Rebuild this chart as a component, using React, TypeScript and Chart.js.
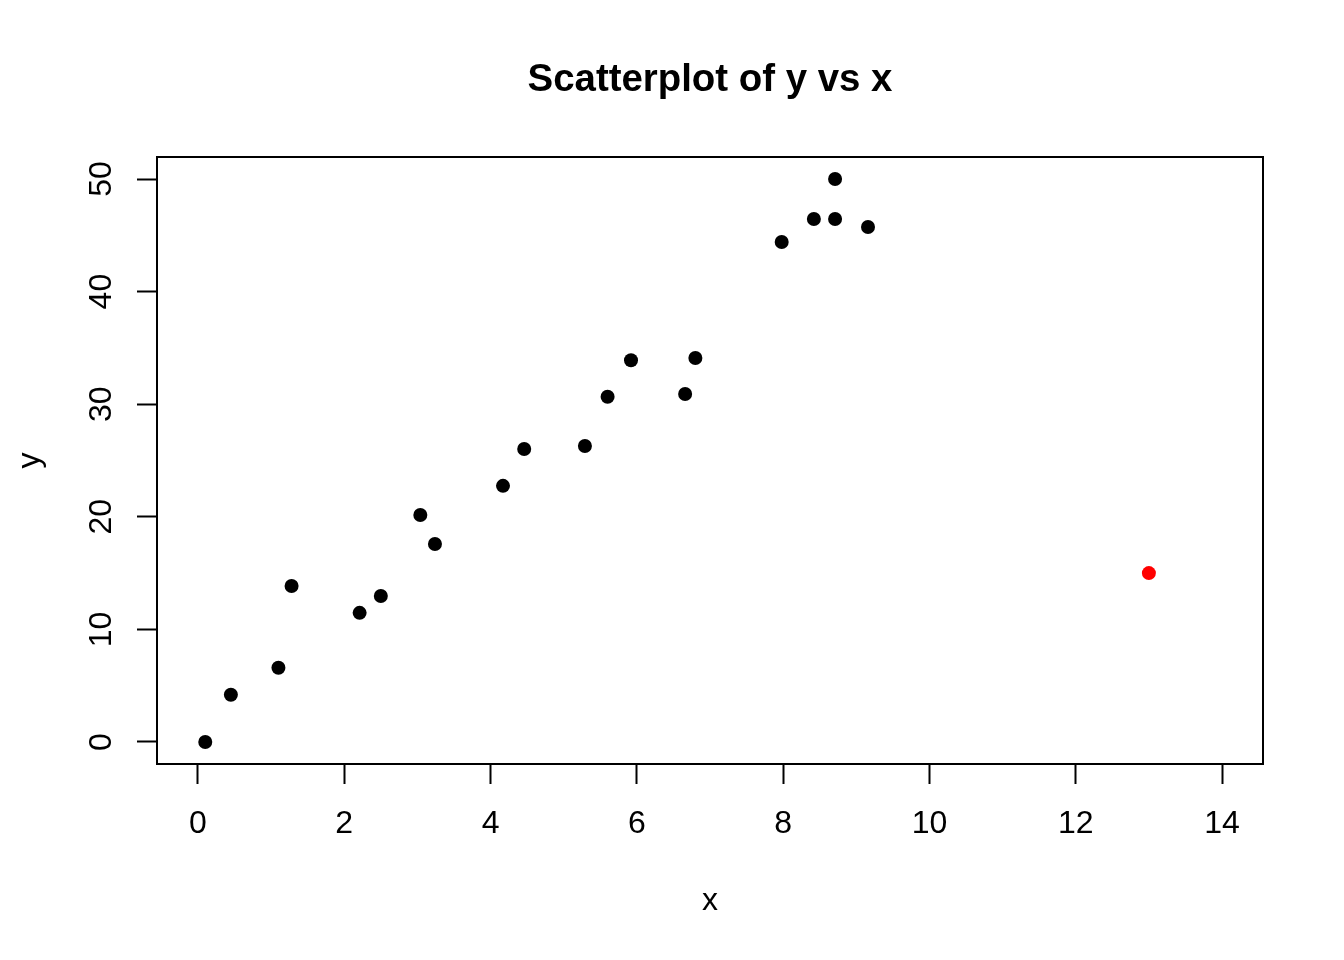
import React, { useEffect, useRef } from "react";
import { Chart, registerables } from "chart.js";

Chart.register(...registerables);

const xValues = [0.1, 0.45, 1.1, 1.28, 2.21, 2.5, 3.04, 3.24, 4.17, 4.46, 5.29, 5.6, 5.92, 6.66, 6.8, 7.98, 8.42, 8.71, 8.71, 9.16];
const yValues = [0, 4.2, 6.6, 13.85, 11.47, 12.97, 20.16, 17.58, 22.75, 26.02, 26.29, 30.66, 33.9, 30.91, 34.1, 44.4, 46.45, 46.45, 50.0, 45.74];
const outlierX = [13];
const outlierY = [15];
const xTicks = [0, 2, 4, 6, 8, 10, 12, 14];
const yTicks = [0, 10, 20, 30, 40, 50];
const titleText = "Scatterplot of y vs x";

const FONT = "'Liberation Sans', Arial, Helvetica, sans-serif";

const boxPlugin = {
  id: "rbox",
  afterDraw(chart: any) {
    const { ctx, chartArea } = chart;
    ctx.save();
    ctx.strokeStyle = "#000";
    ctx.lineWidth = 2;
    ctx.strokeRect(chartArea.left, chartArea.top, chartArea.right - chartArea.left, chartArea.bottom - chartArea.top);
    ctx.fillStyle = "#000";
    ctx.font = `bold 38.4px ${FONT}`;
    ctx.textAlign = "center";
    ctx.textBaseline = "middle";
    ctx.fillText(titleText, (chartArea.left + chartArea.right) / 2, 80);
    ctx.restore();
  },
};

export default function App() {
  const ref = useRef<HTMLCanvasElement>(null);
  useEffect(() => {
    if (!ref.current) return;
    const chart = new Chart(ref.current, {
      type: "scatter",
      data: {
        datasets: [
          {
            data: xValues.map((x, i) => ({ x, y: yValues[i] })),
            backgroundColor: "#000",
            borderWidth: 0,
            pointRadius: 7,
          },
          {
            data: outlierX.map((x, i) => ({ x, y: outlierY[i] })),
            backgroundColor: "#ff0000",
            borderWidth: 0,
            pointRadius: 7,
          },
        ],
      },
      plugins: [boxPlugin],
      options: {
        animation: false,
        responsive: false,
        maintainAspectRatio: false,
        events: [],
        layout: { padding: { top: 157, right: 81, left: 0, bottom: 0 } },
        plugins: {
          legend: { display: false },
          tooltip: { enabled: false },
          title: { display: false },
        },
        scales: {
          x: {
            type: "linear",
            min: -0.56,
            max: 14.56,
            afterBuildTicks: (s: any) => {
              s.ticks = xTicks.map((v) => ({ value: v }));
            },
            afterFit: (s: any) => {
              s.height = 196;
            },
            grid: {
              drawOnChartArea: false,
              drawTicks: true,
              tickLength: 20,
              tickWidth: 2,
              tickColor: "#000",
            },
            border: { display: false },
            ticks: {
              color: "#000",
              font: { family: FONT, size: 32 },
              padding: 21,
              maxRotation: 0,
              minRotation: 0,
              autoSkip: false,
              callback: (v: any) => String(v),
            },
            title: {
              display: true,
              text: "x",
              color: "#000",
              font: { family: FONT, size: 32, lineHeight: 1.2 },
              padding: { top: 0, bottom: 40 },
            },
          },
          y: {
            type: "linear",
            min: -1.954,
            max: 51.954,
            afterBuildTicks: (s: any) => {
              s.ticks = yTicks.map((v) => ({ value: v }));
            },
            afterFit: (s: any) => {
              s.width = 157;
            },
            grid: {
              drawOnChartArea: false,
              drawTicks: true,
              tickLength: 20,
              tickWidth: 2,
              tickColor: "#000",
            },
            border: { display: false },
            ticks: {
              color: "#000",
              font: { family: FONT, size: 32 },
              padding: 17,
              minRotation: 90,
              maxRotation: 90,
              crossAlign: "center",
              autoSkip: false,
              callback: (v: any) => String(v),
            },
            title: {
              display: true,
              text: "y",
              color: "#000",
              font: { family: FONT, size: 32, lineHeight: 1.2 },
              padding: { top: 11, bottom: 0 },
            },
          },
        },
      },
    });
    return () => chart.destroy();
  }, []);
  return (
    <div style={{ position: "fixed", left: 0, top: 0, width: 1344, height: 960, background: "#fff" }}>
      <canvas ref={ref} width={1344} height={960} style={{ width: 1344, height: 960 }} />
    </div>
  );
}
